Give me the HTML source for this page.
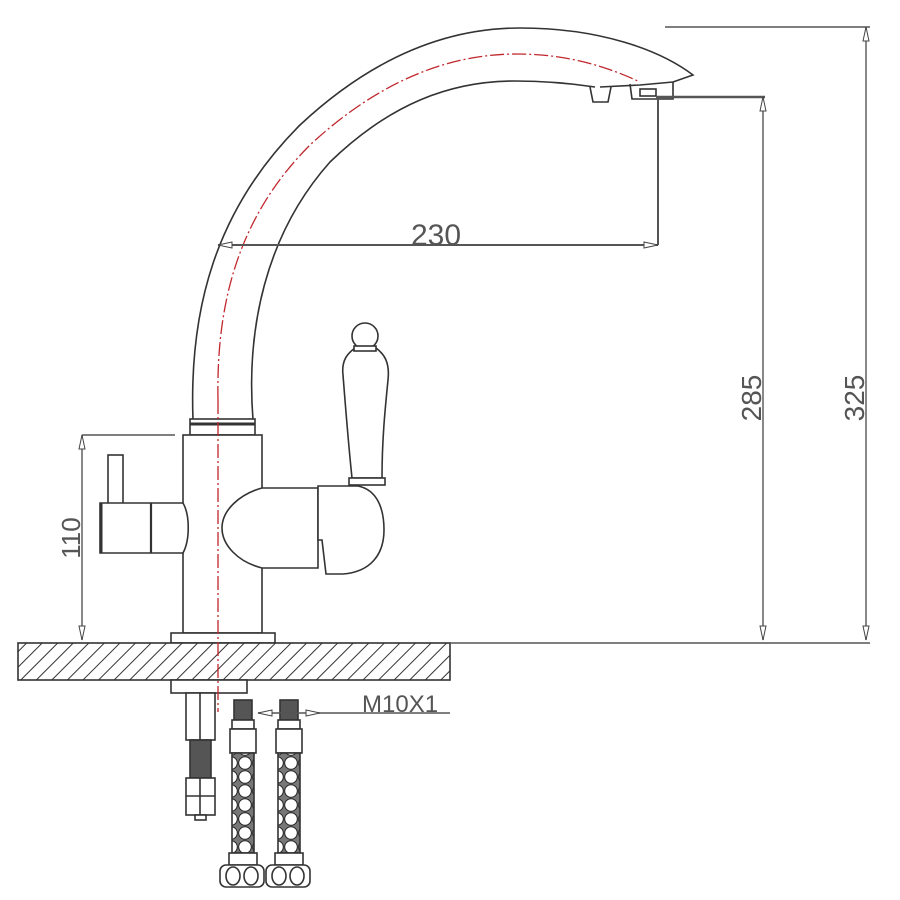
<!DOCTYPE html>
<html><head><meta charset="utf-8"><style>html,body{margin:0;padding:0;background:#fff}svg{display:block}</style></head>
<body>
<svg width="900" height="900" viewBox="0 0 900 900" xmlns="http://www.w3.org/2000/svg">
<defs>
<pattern id="h" width="11" height="11" patternUnits="userSpaceOnUse" patternTransform="rotate(45)">
<rect width="11" height="11" fill="#fff"/><line x1="0" y1="0" x2="0" y2="11" stroke="#333" stroke-width="2"/>
</pattern>
<pattern id="br" width="14" height="14" patternUnits="userSpaceOnUse" x="0" y="0">
<rect width="14" height="14" fill="#777"/><circle cx="7" cy="7" r="6.3" fill="#fff" stroke="#222" stroke-width="1"/>
</pattern>
</defs>
<g fill="none" stroke="#333" stroke-width="1.6">
<path d="M193,420 C189,310 215,210 300,125 C375,55 450,28 520,28 C600,28 660,50 693,75 L673,82 L640,85 L600,87" fill="#fff"/>
<path d="M253,420 C246,330 265,235 330,162 C390,104 450,81 515,81 C550,81 575,84 595,87"/>
<path d="M590,87 L593,102 L608,102 L611,87"/>
<path d="M630,84 L632,99 L673,99 L673,82"/>
<rect x="640" y="89" width="16" height="7"/>
<rect x="190" y="419" width="65" height="16" fill="#fff"/>
<line x1="190" y1="424" x2="255" y2="424" stroke-width="3"/>
<rect x="183" y="435" width="79" height="198" fill="#fff"/>
<rect x="171" y="633" width="104" height="10" fill="#fff"/>
<rect x="108" y="455" width="15" height="50" fill="#fff"/>
<path d="M100,503 L183,503 C190,515 190,540 183,553 L100,553 Z" fill="#fff"/>
<line x1="101" y1="503" x2="101" y2="553" stroke-width="3"/>
<line x1="151" y1="503" x2="151" y2="553" stroke-width="2.2"/>
<path d="M262,488 L318,488 L318,568 L262,568 C238,562 222,545 222,528 C222,510 240,494 262,488 Z" fill="#fff"/>
<path d="M352,478 C348,440 345,400 343,375 C341,358 350,352 355,348 L376,348 C384,354 390,362 388,380 C385,410 382,440 382,478 Z" fill="#fff"/>
<circle cx="365" cy="336" r="13" fill="#fff"/>
<rect x="354" y="346" width="22" height="5" fill="#fff"/>
<rect x="349" y="478" width="36" height="7" fill="#fff"/>
<path d="M318,486 L358,486 C378,490 384,510 384,530 C384,555 370,572 343,574 L326,574 L322,540 L318,540 Z" fill="#fff"/>
<rect x="18" y="643" width="432" height="37" fill="url(#h)"/>
<rect x="171" y="680" width="76" height="13" fill="#fff"/>
<rect x="186" y="693" width="29" height="47" fill="#fff"/>
<line x1="200" y1="693" x2="200" y2="740"/>
<rect x="190" y="740" width="21" height="38" fill="#555"/>
<rect x="186" y="778" width="29" height="37" fill="#fff"/>
<line x1="186" y1="796" x2="215" y2="796"/><line x1="200" y1="778" x2="200" y2="815"/>
<rect x="195" y="815" width="11" height="5" fill="#fff"/>
<g>
<rect x="234" y="700" width="18" height="20" fill="#555"/>
<rect x="232" y="720" width="22" height="9" fill="#fff"/>
<rect x="230" y="729" width="26" height="24" fill="#fff"/>
<rect x="232" y="753" width="22" height="100" fill="url(#br)"/>
<rect x="229" y="853" width="28" height="12" fill="#fff"/>
<rect x="220" y="865" width="44" height="22" rx="6" fill="#fff"/>
<ellipse cx="233" cy="876" rx="7" ry="9"/><ellipse cx="251" cy="876" rx="7" ry="9"/>
</g>
<g transform="translate(46,0)">
<rect x="234" y="700" width="18" height="20" fill="#555"/>
<rect x="232" y="720" width="22" height="9" fill="#fff"/>
<rect x="230" y="729" width="26" height="24" fill="#fff"/>
<rect x="232" y="753" width="22" height="100" fill="url(#br)"/>
<rect x="229" y="853" width="28" height="12" fill="#fff"/>
<rect x="220" y="865" width="44" height="22" rx="6" fill="#fff"/>
<ellipse cx="233" cy="876" rx="7" ry="9"/><ellipse cx="251" cy="876" rx="7" ry="9"/>
</g>
</g>
<g fill="none" stroke="#c0272d" stroke-width="1.3" stroke-dasharray="14,3,2,3">
<line x1="218" y1="400" x2="218" y2="712"/>
<path d="M218,400 C216,300 240,215 310,145 C380,80 450,54 517,54 C570,54 610,68 640,82"/>
</g>
<g fill="none" stroke="#555" stroke-width="1.4">
<line x1="218" y1="245" x2="658" y2="245" stroke-width="2"/>
<line x1="658" y1="97" x2="658" y2="245" stroke-width="2"/>
<line x1="656" y1="97" x2="765" y2="97" stroke-width="2.5"/>
<line x1="763" y1="97" x2="763" y2="640"/>
<line x1="665" y1="27" x2="870" y2="27"/>
<line x1="866" y1="27" x2="866" y2="640"/>
<line x1="450" y1="643" x2="870" y2="643"/>
<line x1="82" y1="435" x2="175" y2="435"/>
<line x1="82" y1="435" x2="82" y2="640"/>
<line x1="258" y1="713" x2="450" y2="713"/>
</g>
<g fill="#fff" stroke="#444" stroke-width="1">
<path d="M218,245 L232,242 L232,248Z"/><path d="M658,245 L644,242 L644,248Z"/>
<path d="M763,97 L760,111 L766,111Z"/><path d="M763,640 L760,626 L766,626Z"/>
<path d="M866,27 L863,41 L869,41Z"/><path d="M866,640 L863,626 L869,626Z"/>
<path d="M82,435 L79,449 L85,449Z"/><path d="M82,640 L79,626 L85,626Z"/>
<path d="M258,713 L272,710 L272,716Z"/><path d="M320,713 L306,710 L306,716Z"/>
</g>
<g font-family="Liberation Sans, sans-serif" fill="#555" font-size="28">
<text x="436" y="245" text-anchor="middle" font-size="30">230</text>
<text transform="translate(761,398) rotate(-90)" text-anchor="middle">285</text>
<text transform="translate(864,398) rotate(-90)" text-anchor="middle">325</text>
<text transform="translate(80,538) rotate(-90)" text-anchor="middle" font-size="26">110</text>
<text x="362" y="712" font-size="24">M10X1</text>
</g>
</svg>
</body></html>
